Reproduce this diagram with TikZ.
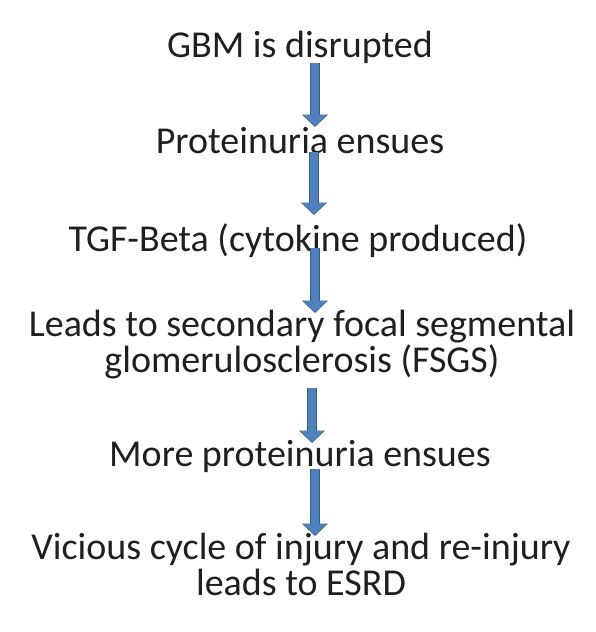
\documentclass[tikz,border=0pt]{standalone}
\usepackage{fontspec}
\setmainfont{Carlito}
\usepackage{tikz}
\usetikzlibrary{arrows.meta,positioning,calc}
\definecolor{arrowblue}{RGB}{79,129,189}
\definecolor{arrowedge}{RGB}{56,93,138}
\tikzstyle{stage} = [inner sep=0pt, anchor=base, align=center, text=black!88, font=\fontsize{38}{36}\selectfont]
\tikzstyle{blockarrow} = [line width=8.5pt, draw=arrowblue, -{Triangle[width=23pt,length=11pt]},
  preaction={draw=arrowedge, line width=10pt, -{Triangle[width=25.5pt,length=12.5pt]}, shorten >=-1pt}]

\begin{document}
\begin{tikzpicture}[x=1pt,y=1pt]
				\useasboundingbox (0,0) rectangle (596,-632);
				\coordinate (axis) at (314,0);
				\node (gbm) [stage] at (300,-57) {GBM is disrupted};
				\node (prot) [stage] at (300,-153) {Proteinuria ensues};
				\node (tgf) [stage] at (298,-251) {TGF-Beta (cytokine produced)};
				\node (fsgs) [stage] at (302,-372) {Leads to secondary focal segmental\\glomerulosclerosis (FSGS)};
				\node (more) [stage] at (300,-466) {More proteinuria ensues};
				\node (esrd) [stage] at (301,-595) {Vicious cycle of injury and re-injury\\leads to ESRD};
	
				\draw [blockarrow] ($(gbm.base -| axis)+(1,-6)$) -- ($(prot.base -| axis)+(1,27)$);
				\draw [blockarrow] ($(prot.base -| axis)+(0,1)$) -- ($(tgf.base -| axis)+(0,37)$);
				\draw [blockarrow] ($(tgf.base -| axis)+(1,3)$) -- ($(fsgs.base -| axis)+(1,60)$);
				\draw [blockarrow] ($(fsgs.base -| axis)+(-2,-16)$) -- ($(more.base -| axis)+(-2,24)$);
				\draw [blockarrow] ($(more.base -| axis)+(1,-3)$) -- ($(esrd.base -| axis)+(1,60)$);
			\end{tikzpicture}
\end{document}
